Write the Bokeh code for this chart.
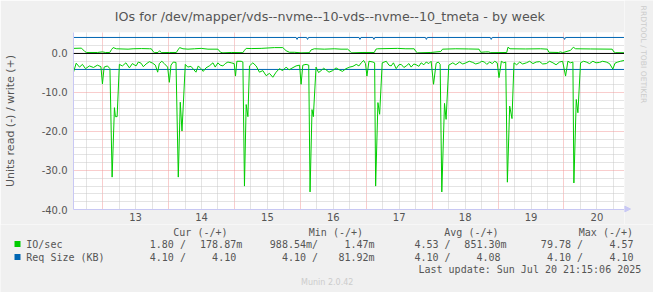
from bokeh.plotting import figure
from bokeh.layouts import column, row
from bokeh.models import (FixedTicker, PrintfTickFormatter, Label, Span, Arrow, NormalHead,
                          BoxAnnotation, Range1d)
from bokeh.embed import file_html
from bokeh.resources import INLINE

# ---------------- data (time in days of July 2025) ----------------
read_t = [12.558, 12.599, 12.649, 12.694, 12.740, 12.800, 12.861, 12.921, 12.974, 12.997,
          13.023, 13.073, 13.111, 13.144, 13.179, 13.194, 13.220, 13.254, 13.300, 13.353,
          13.406, 13.451, 13.507, 13.542, 13.583, 13.618, 13.659, 13.709, 13.759, 13.800,
          13.835, 13.860, 13.898, 13.936, 13.986, 14.012, 14.037, 14.072, 14.113, 14.148,
          14.178, 14.204, 14.254, 14.292, 14.340, 14.375, 14.416, 14.451, 14.492, 14.527,
          14.568, 14.618, 14.674, 14.708, 14.749, 14.784, 14.825, 14.860, 14.901, 14.951,
          14.996, 15.016, 15.037, 15.102, 15.128, 15.152, 15.178, 15.204, 15.228, 15.279,
          15.329, 15.379, 15.431, 15.481, 15.531, 15.582, 15.632, 15.682, 15.731, 15.784,
          15.829, 15.859, 15.935, 15.988, 16.011, 16.037, 16.087, 16.127, 16.147, 16.177,
          16.197, 16.238, 16.276, 16.314, 16.352, 16.390, 16.435, 16.491, 16.541, 16.591,
          16.639, 16.692, 16.748, 16.798, 16.848, 16.889, 16.924, 16.960, 16.988, 17.010,
          17.041, 17.101, 17.127, 17.142, 17.177, 17.203, 17.242, 17.303, 17.344, 17.378,
          17.412, 17.454, 17.495, 17.530, 17.571, 17.606, 17.647, 17.681, 17.722, 17.757,
          17.798, 17.833, 17.874, 17.909, 17.949, 17.984, 18.021, 18.060, 18.093, 18.121,
          18.146, 18.187, 18.211, 18.252, 18.313, 18.358, 18.414, 18.464, 18.514, 18.563,
          18.616, 18.661, 18.717, 18.752, 18.793, 18.828, 18.873, 18.911, 18.949, 18.987,
          19.014, 19.050, 19.085, 19.116, 19.141, 19.176, 19.211, 19.241, 19.282, 19.328,
          19.373, 19.429, 19.479, 19.529, 19.578, 19.631, 19.676, 19.732, 19.782, 19.832,
          19.880, 19.933, 19.979, 20.024, 20.059, 20.100, 20.135, 20.150, 20.186, 20.211,
          20.251, 20.297, 20.338, 20.388, 20.438, 20.486, 20.539, 20.585, 20.641, 20.691,
          20.741, 20.774, 20.816, 20.857, 20.910]
read_v = [-4.8, -2.5, -3.5, -2.8, -3.9, -3.2, -3.6, -3.0, -3.4, -7.8,
          -3.5, -3.2, -3.9, -31.7, -13.9, -16.2, -16.2, -2.8, -3.2, -2.4,
          -3.7, -2.6, -3.2, -2.2, -2.5, -3.4, -2.7, -2.1, -2.5, -3.0,
          -4.8, -2.6, -2.0, -2.6, -3.5, -7.4, -3.0, -2.2, -2.3, -31.7,
          -12.5, -19.9, -2.8, -3.5, -3.3, -4.0, -4.8, -3.2, -3.9, -4.6,
          -3.7, -3.2, -2.4, -3.5, -2.4, -3.0, -3.2, -2.6, -2.2, -2.4,
          -2.6, -5.8, -2.0, -2.0, -2.2, -34.0, -13.1, -16.2, -3.2, -2.4,
          -3.2, -4.8, -4.4, -5.7, -5.1, -6.1, -4.8, -3.9, -4.4, -3.5,
          -4.2, -3.9, -3.2, -3.0, -7.9, -3.0, -2.8, -3.0, -35.5, -14.4,
          -16.2, -3.5, -4.9, -4.4, -3.8, -4.2, -4.8, -4.4, -3.7, -4.2,
          -4.6, -3.9, -3.5, -3.3, -2.8, -3.2, -2.4, -1.8, -2.6, -5.8,
          -2.0, -2.2, -2.4, -34.0, -12.6, -15.6, -2.4, -2.0, -3.0, -3.2,
          -2.4, -3.9, -2.9, -2.8, -3.6, -3.2, -2.6, -3.5, -2.7, -2.9,
          -3.3, -2.4, -2.9, -2.2, -2.6, -2.0, -7.9, -2.5, -2.2, -2.8,
          -35.5, -12.8, -16.9, -3.0, -2.4, -2.9, -2.2, -2.7, -2.4, -2.0,
          -2.3, -2.7, -2.4, -2.0, -2.2, -2.8, -2.2, -2.6, -2.0, -2.4,
          -6.2, -2.0, -2.4, -2.2, -33.0, -13.5, -16.7, -2.4, -2.9, -2.2,
          -2.7, -2.4, -2.0, -2.6, -2.2, -2.1, -2.7, -2.6, -2.0, -2.4,
          -2.9, -2.2, -2.0, -5.8, -2.0, -2.4, -2.2, -33.2, -11.8, -15.2,
          -2.4, -2.0, -2.2, -2.6, -2.0, -2.4, -2.3, -2.0, -2.2, -2.6,
          -4.0, -2.5, -2.2, -2.0, -1.8]

write_t = [12.558, 12.679, 12.729, 12.755, 12.921, 12.997, 13.042, 13.108, 13.133, 13.159,
           13.209, 13.386, 13.462, 13.588, 13.713, 13.739, 13.765, 13.789, 13.839, 13.865,
           13.890, 14.012, 14.118, 14.143, 14.168, 14.219, 14.295, 14.395, 14.496, 14.598,
           14.749, 14.789, 14.825, 14.951, 15.128, 15.152, 15.178, 15.254, 15.405, 15.606,
           15.734, 15.784, 15.834, 15.909, 16.011, 16.137, 16.162, 16.212, 16.364, 16.515,
           16.617, 16.718, 16.757, 16.779, 16.950, 17.121, 17.147, 17.172, 17.475, 17.601,
           17.727, 17.752, 17.778, 17.980, 18.131, 18.157, 18.358, 18.555, 18.711, 18.737,
           18.813, 18.858, 18.888, 19.131, 19.150, 19.181, 19.418, 19.645, 19.747, 19.771,
           19.918, 19.948, 19.979, 20.100, 20.141, 20.176, 20.403, 20.731, 20.756, 20.781,
           20.910]
write_v = [1.3, 1.36, 0.5, 0.25, 0.25, 0.4, 0.25, 0.25, 0.95, 1.5,
           1.2, 1.1, 1.2, 1.25, 1.2, 1.2, 0.5, 0.2, 0.25, 0.7,
           0.2, 0.25, 0.25, 0.9, 1.5, 1.2, 1.1, 1.2, 1.3, 1.1,
           1.1, 0.3, 0.15, 0.25, 0.2, 0.8, 1.3, 1.25, 1.3, 1.5,
           1.5, 0.7, 0.3, 0.3, 0.15, 0.2, 0.9, 1.2, 1.1, 1.2,
           1.1, 1.1, 0.5, 0.15, 0.25, 0.25, 1.1, 1.2, 1.3, 1.2,
           1.2, 0.5, 0.15, 0.25, 0.5, 1.1, 1.2, 1.15, 1.1, 0.3,
           0.4, 0.4, 0.2, 0.25, 1.6, 1.2, 1.15, 1.2, 1.1, 0.3,
           0.25, 0.4, 0.2, 0.8, 1.6, 1.2, 1.15, 1.1, 0.4, 0.2,
           0.18]

req_write_t = [12.558, 15.935, 15.950, 15.965, 16.094, 16.109, 16.124, 16.889, 16.904, 16.919,
               17.101, 17.116, 17.131, 17.897, 17.912, 17.927, 18.881, 18.896, 18.911,
               19.994, 20.009, 20.024, 20.910]
req_write_v = [4.1, 4.1, 3.6, 4.1, 4.1, 3.6, 4.1, 4.1, 3.6, 4.1,
               4.1, 3.6, 4.1, 4.1, 3.6, 4.1, 4.1, 3.6, 4.1,
               4.1, 3.6, 4.1, 4.1]
req_read_t = [12.558, 20.910]
req_read_v = [-4.1, -4.1]

day_label_pos = [13.5, 14.5, 15.5, 16.5, 17.5, 18.5, 19.5, 20.5]
day_labels = ["13", "14", "15", "16", "17", "18", "19", "20"]
midnights = [13, 14, 15, 16, 17, 18, 19, 20]
y_major = [-40, -30, -20, -10, 0]

legend_headers = ["Cur (-/+)", "Min (-/+)", "Avg (-/+)", "Max (-/+)"]
series_names = ["IO/sec", "Req Size (KB)"]
io_cells = ["1.80 /", "178.87m", "988.54m/", "1.47m", "4.53 /", "851.30m", "79.78 /", "4.57"]
req_cells = ["4.10 /", "4.10", "4.10 /", "81.92m", "4.10 /", "4.08", "4.10 /", "4.10"]
title_text = "IOs for /dev/mapper/vds--nvme--10-vds--nvme--10_tmeta - by week"
side_text = "RRDTOOL / TOBI OETIKER"
update_text = "Last update: Sun Jul 20 21:15:06 2025"
version_text = "Munin 2.0.42"

GREEN = "#00CC00"
BLUE = "#0066B3"
TXT = "#555555"
BG = "#F0F0F0"
AXC = "#C8C8F4"

W, H = 653, 292
H1 = 224          # height of the chart part
FL, FT, FR, FB = 72, 31, 624, 209  # frame box in canvas px

# ---------------- chart ----------------
p = figure(width=FR, height=H1, output_backend="svg", toolbar_location=None,
           x_range=Range1d(12.558, 20.918), y_range=Range1d(-40, 5.37),
           min_border_left=FL, min_border_right=0, min_border_top=FT,
           min_border_bottom=H1 - FB)
p.frame_align = False
p.border_fill_color = BG
p.background_fill_color = "white"
p.outline_line_color = None

p.title.text = title_text
p.title.align = "left"
p.title.offset = 113.3 - FL
p.title.vertical_align = "middle"
p.title.text_font = "DejaVu Sans"
p.title.text_font_size = "12.7px"
p.title.text_font_style = "normal"
p.title.text_color = TXT
p.title.standoff = 15

# grids
minor_x = [d + q for d in range(12, 21) for q in (0.25, 0.5, 0.75)]
p.xgrid.ticker = FixedTicker(ticks=midnights, minor_ticks=minor_x)
p.ygrid.ticker = FixedTicker(ticks=y_major, minor_ticks=[v for v in range(-38, 6, 2) if v % 10 != 0])
for g in (p.xgrid, p.ygrid):
    g.grid_line_color = "#F29A9A"
    g.grid_line_dash = "1 1"
    g.grid_line_width = 1
    g.minor_grid_line_color = "#C8C8C8"
    g.minor_grid_line_dash = "1 1"
    g.minor_grid_line_width = 1

# axes
p.xaxis.ticker = FixedTicker(ticks=day_label_pos)
p.xaxis.major_label_overrides = {pos: lab for pos, lab in zip(day_label_pos, day_labels)}
p.yaxis.ticker = FixedTicker(ticks=y_major)
p.yaxis.formatter = PrintfTickFormatter(format="%.1f")
for ax in (p.xaxis, p.yaxis):
    ax.axis_line_color = AXC
    ax.major_tick_in = 0
    ax.major_tick_out = 0
    ax.minor_tick_in = 0
    ax.minor_tick_out = 0
    ax.major_label_text_font = "DejaVu Sans"
    ax.major_label_text_font_size = "10px"
    ax.major_label_text_color = TXT
p.xaxis.major_label_standoff = 3
p.yaxis.major_label_standoff = 6
p.yaxis.axis_label = "Units read (-) / write (+)"
p.yaxis.axis_label_text_font = "DejaVu Sans"
p.yaxis.axis_label_text_font_size = "11px"
p.yaxis.axis_label_text_font_style = "normal"
p.yaxis.axis_label_text_color = TXT
p.yaxis.axis_label_standoff = 22

# series
p.line(req_write_t, req_write_v, line_color=BLUE, line_width=1)
p.line(req_read_t, req_read_v, line_color=BLUE, line_width=1)
p.line(write_t, write_v, line_color=GREEN, line_width=1)
p.line(read_t, read_v, line_color=GREEN, line_width=1)
p.add_layout(Span(location=0, dimension="width", line_color="black", line_width=1))


def strip(width, height):
    f = figure(width=width, height=height, output_backend="svg", toolbar_location=None,
               x_range=Range1d(0, 1), y_range=Range1d(0, 1),
               x_axis_location=None, y_axis_location=None,
               min_border_left=0, min_border_right=0, min_border_top=0, min_border_bottom=0)
    f.frame_align = False
    f.border_fill_color = BG
    f.background_fill_color = BG
    f.outline_line_color = None
    f.grid.visible = False
    return f


# ---------------- right strip (watermark + x-axis arrow head) ----------------
side = strip(W - FR, H1)
side.add_layout(Label(x=643 - FR, y=H1 - 54, x_units="screen", y_units="screen",
                      text=side_text, text_font="DejaVu Sans", text_font_size="7.6px",
                      text_align="center", text_baseline="middle", text_color="#CCCCCC",
                      angle=-1.5708))
side.add_layout(Arrow(end=NormalHead(size=6, fill_color=AXC, line_color=AXC),
                      x_start=0, y_start=H1 - FB + 0.5, x_end=6, y_end=H1 - FB + 0.5,
                      start_units="screen", end_units="screen", line_color=AXC))

# ---------------- legend strip ----------------
H2 = H - H1
q = strip(W, H2)


def lab(text, cx, cy, size, font="DejaVu Sans Mono", align="left", color=TXT):
    q.add_layout(Label(x=cx, y=H - cy, x_units="screen", y_units="screen", text=text,
                       text_font=font, text_font_size=size, text_align=align,
                       text_baseline="middle", text_color=color))


header_ends = [227, 362.5, 498, 632.5]
for h, e in zip(legend_headers, header_ends):
    lab(h, e, 231.5, "10px", align="right")

io_ends = [185.4, 241.7, 317.5, 374, 450, 506, 582.5, 633]
req_ends = [185.4, 235.7, 317.5, 374, 450, 500, 582.5, 633]
rows = [(series_names[0], io_cells, io_ends, 243.5, GREEN),
        (series_names[1], req_cells, req_ends, 256.5, BLUE)]
for name, cells, ends, cy, col in rows:
    q.add_layout(BoxAnnotation(left=14, right=20, bottom=H - (cy + 3), top=H - (cy - 3),
                               left_units="screen", right_units="screen",
                               bottom_units="screen", top_units="screen",
                               fill_color=col, fill_alpha=1.0, line_color=None))
    lab(name, 25.8, cy, "10px")
    for c, e in zip(cells, ends):
        lab(c, e, cy, "10px", align="right")

lab(update_text, 418, 268.5, "10px")
lab(version_text, 326.7, 281.5, "8px", font="DejaVu Sans", align="center", color="#CCCCCC")

layout = column(row(p, side, spacing=0), q, spacing=0)
open("out.html", "w").write(file_html(layout, INLINE))
